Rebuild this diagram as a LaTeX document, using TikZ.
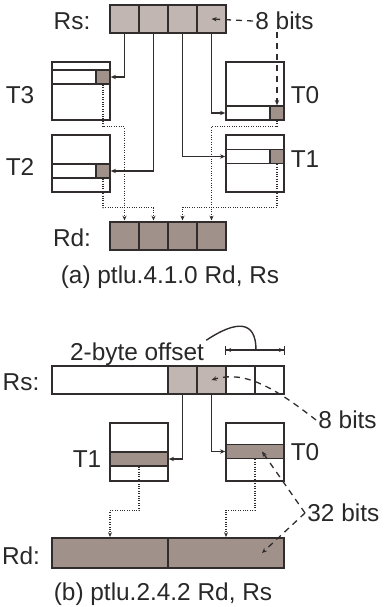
\documentclass[tikz,border=0pt]{standalone}
\usepackage{fontspec}
\setmainfont{Liberation Sans}
\usetikzlibrary{arrows.meta}
\definecolor{lightc}{RGB}{194,182,178}
\definecolor{darkc}{RGB}{160,145,139}
\definecolor{linec}{RGB}{50,45,45}
\definecolor{textc}{RGB}{40,40,40}
\begin{document}
\begin{tikzpicture}[x=0.5pt,y=-0.5pt,
  font=\fontsize{12.2}{14}\selectfont, text=textc,
  every node/.style={inner sep=1pt},
  reg/.style={draw=linec, line width=1pt, inner sep=0pt, minimum width=14.5pt, minimum height=14pt},
  tbl/.style={draw=linec, fill=white, line width=0.8pt, inner sep=0pt, minimum width=29pt, minimum height=29pt},
  rowc/.style={draw=linec, fill=white, line width=0.8pt, inner sep=0pt, minimum width=22pt, minimum height=7pt},
  conn/.style={draw=linec, line width=0.7pt, -{Stealth[length=2.6pt,width=2.2pt]}},
  dots/.style={draw=linec, line width=0.6pt, dash pattern=on 0.5pt off 0.7pt, -{Stealth[length=2.4pt,width=2pt]}},
  dsh/.style={draw=linec, line width=0.65pt, dash pattern=on 3pt off 2.5pt, -{Stealth[length=2.6pt,width=2.2pt]}},
  curve/.style={draw=linec, line width=0.7pt},
  dim/.style={draw=linec, line width=0.7pt, {Bar[width=4.5pt]Stealth[length=2.4pt,width=2pt]}-{Stealth[length=2.4pt,width=2pt]Bar[width=4.5pt]}}
]
\useasboundingbox (0,0) rectangle (385,607);

% ===== (a) =====
\node[reg,fill=lightc] (rs1) at (124.5,19) {};
\node[reg,fill=lightc] (rs2) at (153.5,19) {};
\node[reg,fill=lightc] (rs3) at (182.5,19) {};
\node[reg,fill=lightc] (rs4) at (211.5,19) {};
\node (rsa) at (72,21) {Rs:};
\node[anchor=west] (bits8a) at (253,21) {8 bits};

\node[tbl] (t3) at (81,91) {};
\node[rowc] (t3r) at (74,77) {};
\node[rowc,fill=darkc,minimum width=7pt] (t3d) at (103,77) {};
\node[tbl,minimum height=28.5pt] (t2) at (81,163.5) {};
\node[rowc] (t2r) at (74,171) {};
\node[rowc,fill=darkc,minimum width=7pt] (t2d) at (103,171) {};
\node[tbl] (t0) at (255,91) {};
\node[rowc] (t0r) at (248,113) {};
\node[rowc,fill=darkc,minimum width=7pt] (t0d) at (277,113) {};
\node[tbl,minimum height=28.5pt] (t1) at (255,163.5) {};
\node[rowc] (t1r) at (248,156.5) {};
\node[rowc,fill=darkc,minimum width=7pt] (t1d) at (277,156.5) {};

\node (lt3) at (20,95) {T3};
\node (lt0) at (305,95) {T0};
\node (lt2) at (20,167) {T2};
\node (lt1) at (305,159) {T1};

\node[reg,fill=darkc] (rd1) at (124.5,235.5) {};
\node[reg,fill=darkc] (rd2) at (153.5,235.5) {};
\node[reg,fill=darkc] (rd3) at (182.5,235.5) {};
\node[reg,fill=darkc] (rd4) at (211.5,235.5) {};
\node (rda) at (72,238) {Rd:};
\node (capa) at (170,277) {(a) ptlu.4.1.0 Rd, Rs};

\draw[conn] (rs1.south) |- (t3d.east);
\draw[conn] (rs2.south) |- (t2d.east);
\draw[conn] (rs3.south) |- (t1r.west);
\draw[conn] (rs4.south) |- (t0r.west);

\draw[dots] (t3d.south) -- ++(0,42) -| (rd1.north);
\draw[dots] (t2d.south) -- ++(0,29) -| (rd2.north);
\draw[dots] (t1d.south) -- ++(0,43) -| (rd3.north);
\draw[dots] (t0d.south) -- ++(0,6) -| (rd4.north);

\draw[dsh] (bits8a.west) -- (rs4.center);
\draw[dsh] (bits8a.south -| t0d.north) -- (t0d.north);

% ===== (b) =====
\node[reg,fill=white,minimum width=58pt] (rsb1) at (110,380) {};
\node[reg,fill=lightc] (rsb2) at (182.5,380) {};
\node[reg,fill=lightc] (rsb3) at (211.5,380) {};
\node[reg,fill=white] (rsb4) at (240.5,380) {};
\node[reg,fill=white] (rsb5) at (269.5,380) {};
\node (rsbl) at (21,382) {Rs:};
\node (offs) at (137,354) {2-byte offset};
\coordinate (dimL) at ([yshift=7.5pt]rsb4.north west);
\coordinate (dimR) at ([yshift=7.5pt]rsb5.north east);
\coordinate (dimM) at ([yshift=7.5pt]rsb4.north east);
\draw[dim] (dimL) -- (dimR);
\draw[curve] (offs.north east) .. controls +(30,-20) and +(0,-30) .. (dimM);
\node[anchor=west] (bits8b) at (316,420) {8 bits};
\draw[dsh] (bits8b.west) .. controls (275,388) and (245,370) .. (rsb3.center);

\node[tbl] (tb1) at (139,452) {};
\node[rowc,fill=darkc,minimum width=29pt] (tb1r) at (139,459) {};
\node[tbl] (tb0) at (255,452) {};
\node[rowc,fill=darkc,minimum width=29pt] (tb0r) at (255,451.5) {};
\node (ltb1) at (87,459) {T1};
\node (ltb0) at (305,452) {T0};

\draw[conn] (rsb2.south) |- (tb1r.east);
\draw[conn] (rsb3.south) |- (tb0r.west);

\node[reg,fill=darkc,minimum width=58pt,minimum height=15pt] (rdb1) at (110,553) {};
\node[reg,fill=darkc,minimum width=58pt,minimum height=15pt] (rdb2) at (226,553) {};
\node (rdbl) at (21,556) {Rd:};

\draw[dots] (tb1r.south) -- ++(0,44) -| (rdb1.north);
\draw[dots] (tb0r.south) -- ++(0,51) -| (rdb2.north);

\node[anchor=west] (bits32) at (305,513) {32 bits};
\draw[dsh] (bits32.west) -- ([xshift=3.5pt]tb0r.center);
\draw[dsh] (bits32.west) -- ([xshift=18pt]rdb2.center);

\node (capb) at (163,594) {(b) ptlu.2.4.2 Rd, Rs};
\end{tikzpicture}
\end{document}
